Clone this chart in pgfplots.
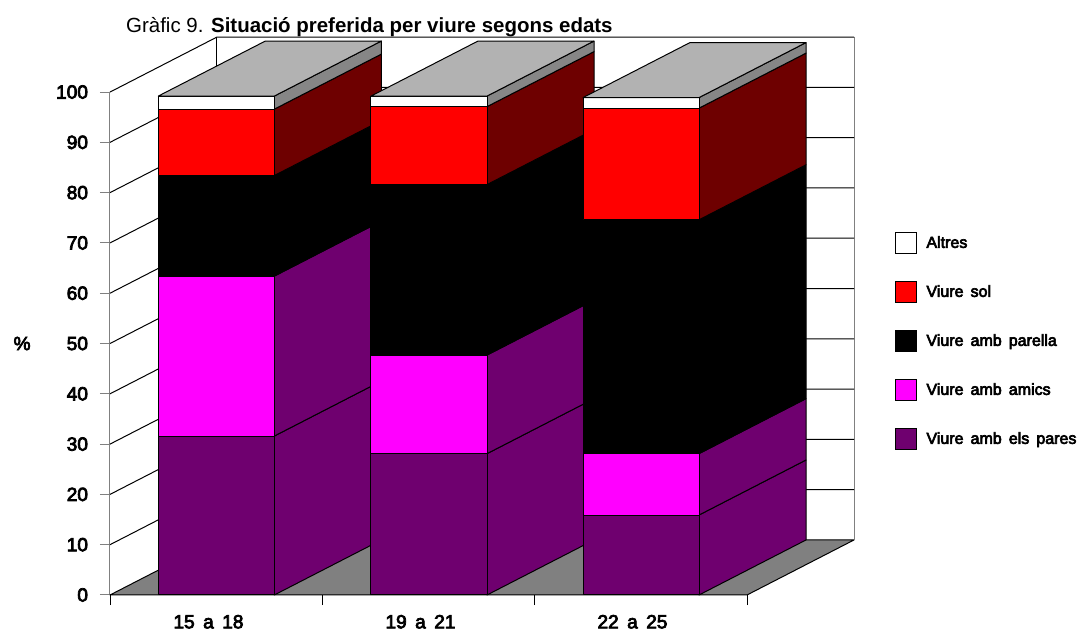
\documentclass[border=0pt]{standalone}
\usepackage{fontspec}
\setmainfont{Liberation Sans}
\newfontfamily\fatfont[FakeBold=4,WordSpace=1.6]{Liberation Sans}
\usepackage{pgfplots}
\pgfplotsset{compat=1.18}

\definecolor{wallgrey}{HTML}{808080}
\definecolor{topgrey}{HTML}{B2B2B2}
\definecolor{stripgrey}{HTML}{868686}
\definecolor{darkred}{HTML}{6E0000}
\definecolor{purp}{HTML}{6F006F}
\definecolor{magen}{HTML}{FF00FF}

\pgfplotsset{
  face/.style={forget plot, mark=none, draw=black, line width=0.75pt, line join=round, fill=#1},
  wall/.style={forget plot, mark=none, draw=#1, line width=0.75pt},
}

\begin{document}
\begin{tikzpicture}
% 1 px = 0.75pt, page is 1079x632
\useasboundingbox (-82.5pt,-27.75pt) rectangle (726.75pt,446.25pt);
\begin{axis}[
    scale only axis,
    at={(0pt,0pt)}, anchor=south west,
    width=477.75pt, height=377.2pt,
    xmin=0, xmax=637, ymin=0, ymax=100,
    clip=false,
    axis x line=bottom, axis y line=left,
    axis line style={-},
    x axis line style={black, line width=0.75pt},
    y axis line style={wallgrey, line width=0.75pt},
    tick align=outside,
    major tick length=7.5pt,
    ytick={0,10,...,100},
    xtick={0,212.33,424.67,637},
    xticklabels={},
    xtick style={black, line width=0.6pt},
    ytick style={wallgrey, line width=0.75pt},
    extra x ticks={98.5,310.5,522.5},
    extra x tick labels={15 a 18,19 a 21,22 a 25},
    extra x tick style={major tick length=0pt, tick style={draw=none},
       xticklabel style={yshift=-15pt, inner sep=0pt, outer sep=0pt}},
    /pgf/number format/assume math mode=true,
    tick label style={font=\fatfont\fontsize{14.3}{15}\selectfont},
    yticklabel style={xshift=-5.5pt},
    ylabel={\%},
    ylabel style={rotate=-90, font=\fatfont\fontsize{14.3}{15}\selectfont,
       at={(axis description cs:-0.138,0.5)}, anchor=center},
    title={Gràfic 9. \textbf{Situació preferida per viure segons edats}},
    title style={font=\fontsize{15.35}{17}\selectfont, yshift=0pt,
       at={(axis description cs:0.025,1.113)}, anchor=west, inner sep=0pt},
    legend cell align=left,
    legend image code/.code={\draw[#1] (0pt,-8pt) rectangle (16pt,8pt);},
    legend style={at={(axis description cs:1.232,0.722)}, anchor=north west,
       draw=none, fill=none, inner sep=0pt, outer sep=0pt, row sep=20pt,
       /tikz/every odd column/.append style={column sep=7pt},
       nodes={inner sep=0pt, font=\fatfont\fontsize{12}{13}\selectfont, anchor=west}},
]
\addlegendimage{draw=black, fill=white, line width=0.75pt}
\addlegendentry{Altres}
\addlegendimage{draw=black, fill=red, line width=0.75pt}
\addlegendentry{Viure sol}
\addlegendimage{draw=black, fill=black, line width=0.75pt}
\addlegendentry{Viure amb parella}
\addlegendimage{draw=black, fill=magen, line width=0.75pt}
\addlegendentry{Viure amb amics}
\addlegendimage{draw=black, fill=purp, line width=0.75pt}
\addlegendentry{Viure amb els pares}

% floor and walls, depth is 107 px across and 10.94 % up
\addplot[face=wallgrey] coordinates {(0,0) (107,10.94) (744,10.94) (637,0)} -- cycle;
\addplot[wall=black] coordinates {(107,10.94) (107,110.94)};
\addplot[wall=wallgrey] coordinates {(744,10.94) (744,110.94)};
\addplot[wall=black] coordinates {(0,10) (107,20.94) (744,20.94)};
\addplot[wall=black] coordinates {(0,20) (107,30.94) (744,30.94)};
\addplot[wall=black] coordinates {(0,30) (107,40.94) (744,40.94)};
\addplot[wall=black] coordinates {(0,40) (107,50.94) (744,50.94)};
\addplot[wall=black] coordinates {(0,50) (107,60.94) (744,60.94)};
\addplot[wall=black] coordinates {(0,60) (107,70.94) (744,70.94)};
\addplot[wall=black] coordinates {(0,70) (107,80.94) (744,80.94)};
\addplot[wall=black] coordinates {(0,80) (107,90.94) (744,90.94)};
\addplot[wall=black] coordinates {(0,90) (107,100.94) (744,100.94)};
\addplot[wall=black] coordinates {(0,100) (107,110.94) (744,110.94)};

% 15 a 18: 31.6 31.8 20 13.2 2.6
\addplot[face=purp] coordinates {(164.3,0) (271.3,10.94) (271.3,42.54) (164.3,31.6)} -- cycle;
\addplot[face=purp] coordinates {(48.3,0) (164.3,0) (164.3,31.6) (48.3,31.6)} -- cycle;
\addplot[face=purp] coordinates {(164.3,31.6) (271.3,42.54) (271.3,74.34) (164.3,63.4)} -- cycle;
\addplot[face=magen] coordinates {(48.3,31.6) (164.3,31.6) (164.3,63.4) (48.3,63.4)} -- cycle;
\addplot[face=black] coordinates {(164.3,63.4) (271.3,74.34) (271.3,94.34) (164.3,83.4)} -- cycle;
\addplot[face=black] coordinates {(48.3,63.4) (164.3,63.4) (164.3,83.4) (48.3,83.4)} -- cycle;
\addplot[face=darkred] coordinates {(164.3,83.4) (271.3,94.34) (271.3,107.54) (164.3,96.6)} -- cycle;
\addplot[face=red] coordinates {(48.3,83.4) (164.3,83.4) (164.3,96.6) (48.3,96.6)} -- cycle;
\addplot[face=stripgrey] coordinates {(164.3,96.6) (271.3,107.54) (271.3,110.14) (164.3,99.2)} -- cycle;
\addplot[face=white] coordinates {(48.3,96.6) (164.3,96.6) (164.3,99.2) (48.3,99.2)} -- cycle;
\addplot[face=topgrey] coordinates {(48.3,99.2) (164.3,99.2) (271.3,110.14) (155.3,110.14)} -- cycle;

% 19 a 21: 28.1 19.6 33.9 15.5 2.1
\addplot[face=purp] coordinates {(377,0) (484,10.94) (484,39.04) (377,28.1)} -- cycle;
\addplot[face=purp] coordinates {(261,0) (377,0) (377,28.1) (261,28.1)} -- cycle;
\addplot[face=purp] coordinates {(377,28.1) (484,39.04) (484,58.64) (377,47.7)} -- cycle;
\addplot[face=magen] coordinates {(261,28.1) (377,28.1) (377,47.7) (261,47.7)} -- cycle;
\addplot[face=black] coordinates {(377,47.7) (484,58.64) (484,92.54) (377,81.6)} -- cycle;
\addplot[face=black] coordinates {(261,47.7) (377,47.7) (377,81.6) (261,81.6)} -- cycle;
\addplot[face=darkred] coordinates {(377,81.6) (484,92.54) (484,108.04) (377,97.1)} -- cycle;
\addplot[face=red] coordinates {(261,81.6) (377,81.6) (377,97.1) (261,97.1)} -- cycle;
\addplot[face=stripgrey] coordinates {(377,97.1) (484,108.04) (484,110.14) (377,99.2)} -- cycle;
\addplot[face=white] coordinates {(261,97.1) (377,97.1) (377,99.2) (261,99.2)} -- cycle;
\addplot[face=topgrey] coordinates {(261,99.2) (377,99.2) (484,110.14) (368,110.14)} -- cycle;

% 22 a 25: 15.9 12.2 46.5 22.2 2.1
\addplot[face=purp] coordinates {(589,0) (696,10.94) (696,26.84) (589,15.9)} -- cycle;
\addplot[face=purp] coordinates {(473,0) (589,0) (589,15.9) (473,15.9)} -- cycle;
\addplot[face=purp] coordinates {(589,15.9) (696,26.84) (696,39.04) (589,28.1)} -- cycle;
\addplot[face=magen] coordinates {(473,15.9) (589,15.9) (589,28.1) (473,28.1)} -- cycle;
\addplot[face=black] coordinates {(589,28.1) (696,39.04) (696,85.54) (589,74.6)} -- cycle;
\addplot[face=black] coordinates {(473,28.1) (589,28.1) (589,74.6) (473,74.6)} -- cycle;
\addplot[face=darkred] coordinates {(589,74.6) (696,85.54) (696,107.74) (589,96.8)} -- cycle;
\addplot[face=red] coordinates {(473,74.6) (589,74.6) (589,96.8) (473,96.8)} -- cycle;
\addplot[face=stripgrey] coordinates {(589,96.8) (696,107.74) (696,109.84) (589,98.9)} -- cycle;
\addplot[face=white] coordinates {(473,96.8) (589,96.8) (589,98.9) (473,98.9)} -- cycle;
\addplot[face=topgrey] coordinates {(473,98.9) (589,98.9) (696,109.84) (580,109.84)} -- cycle;
\end{axis}
\end{tikzpicture}
\end{document}
